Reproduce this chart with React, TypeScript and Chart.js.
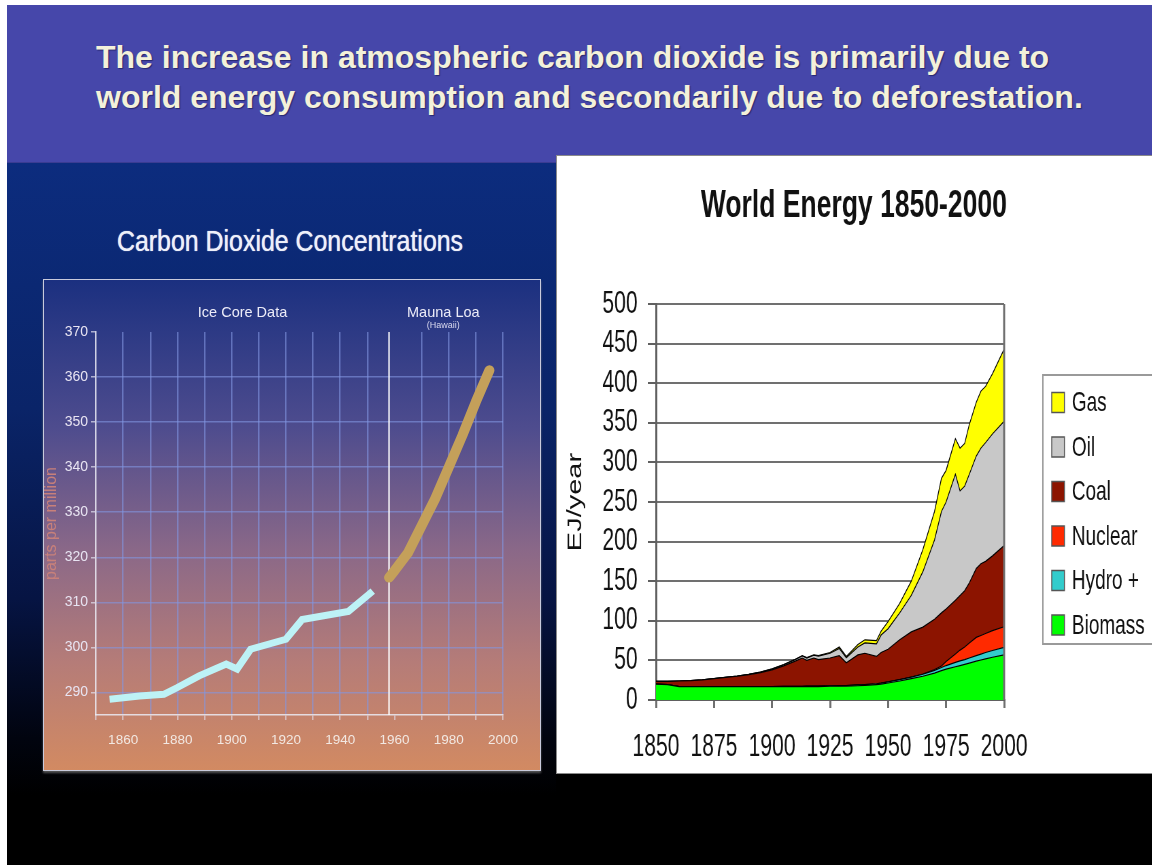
import React, { useEffect, useRef } from 'react';
import { Chart, registerables } from 'chart.js';

Chart.register(...registerables);

const FAMILY = '"Liberation Sans", Arial, Helvetica, sans-serif';
Chart.defaults.font.family = FAMILY;

// ---------- text ----------
const headerLines = [
  'The increase in atmospheric carbon dioxide is primarily due to',
  'world energy consumption and secondarily due to deforestation.',
];
const co2Title = 'Carbon Dioxide Concentrations';
const co2YTitle = 'parts per million';
const iceCoreLabel = 'Ice Core Data';
const maunaLoaLabel = 'Mauna Loa';
const maunaLoaSub = '(Hawaii)';
const energyTitle = 'World Energy 1850-2000';
const energyYTitle = 'EJ/year';

// ---------- CO2 data (ppm) ----------
const iceCoreYears = [1855, 1866, 1875, 1880, 1888, 1898, 1902, 1907, 1920, 1926, 1943, 1952];
const iceCorePpm = [288.5, 289.2, 289.6, 291.1, 293.7, 296.3, 295.2, 299.6, 301.8, 306.2, 308, 312.5];
const maunaLoaYears = [1958, 1960, 1965, 1970, 1975, 1980, 1985, 1990, 1995];
const maunaLoaPpm = [315.5, 317, 321, 327, 333, 340, 347, 354.5, 361.5];

// ---------- World energy data (EJ/year) ----------
const energyYears = [1850, 1855, 1860, 1865, 1870, 1875, 1880, 1885, 1890, 1895, 1900, 1905, 1910, 1913, 1915, 1918, 1920, 1925, 1929, 1932, 1937, 1940, 1945, 1947, 1950, 1955, 1960, 1965, 1970, 1973, 1975, 1979, 1981, 1983, 1985, 1988, 1990, 1992, 1995, 2000];
const biomass = [20, 19.5, 17, 17, 17, 17, 17, 17, 17, 17, 17, 17, 17, 17, 17, 17, 17, 17.5, 17.5, 17.5, 18, 18.5, 19.5, 20, 21.5, 24, 27, 30, 34, 37, 39, 42, 43.5, 45, 46.5, 49, 50.5, 52, 54, 57];
const hydro = [0, 0, 0, 0, 0, 0, 0, 0, 0, 0, 0, 0.1, 0.3, 0.3, 0.4, 0.4, 0.5, 0.5, 0.7, 0.8, 1, 1, 1, 1.2, 1.5, 1.7, 2, 2.5, 3.5, 4, 4.5, 5.5, 6, 6, 6.5, 7, 7.5, 8, 8.5, 9.5];
const nuclear = [0, 0, 0, 0, 0, 0, 0, 0, 0, 0, 0, 0, 0, 0, 0, 0, 0, 0, 0, 0, 0, 0, 0, 0, 0, 0, 0, 0.2, 1, 2, 5, 10.5, 13.5, 16, 19, 23, 23.5, 24, 25, 26];
const coal = [3.5, 4, 7, 7.5, 8.5, 10, 11.5, 13, 15, 17.5, 21, 26, 31.7, 35.7, 32.6, 35.6, 33.5, 35, 37.8, 28.7, 38, 39.5, 34.5, 38.8, 41, 50.3, 57, 59.3, 63.5, 67, 66.5, 68, 69, 71, 76, 87, 90.5, 91, 94.5, 102.5];
const oil = [0, 0, 0, 0, 0, 0.1, 0.2, 0.3, 0.5, 0.7, 1, 1.3, 2, 2.5, 3, 3.5, 4.5, 6, 9, 6.5, 10, 13, 16, 22, 26, 34, 46, 70, 100, 128, 135, 159, 132, 132, 137, 142, 146, 150, 154, 157];
const gas = [0, 0, 0, 0, 0, 0, 0, 0, 0, 0, 0.2, 0.3, 0.4, 0.5, 0.5, 0.5, 0.6, 1, 2, 1.5, 3, 4, 4, 5, 9, 12, 18, 28, 36, 42, 40, 45, 54, 54, 63, 68, 72, 71, 76, 91];

const energySeries = [
  { label: 'Biomass', values: biomass, color: '#00FF00' },
  { label: 'Hydro +', values: hydro, color: '#33CCCC' },
  { label: 'Nuclear', values: nuclear, color: '#FF2A00' },
  { label: 'Coal', values: coal, color: '#8C1400' },
  { label: 'Oil', values: oil, color: '#C8C8C8' },
  { label: 'Gas', values: gas, color: '#FFFF00' },
];

const SQUEEZE = 0.68; // the energy chart is horizontally compressed in the slide

// ---------- plugins ----------
const co2Annotations = {
  id: 'co2Annotations',
  beforeDatasetsDraw(chart: any) {
    const { ctx, chartArea, scales } = chart;
    const x = scales.x.getPixelForValue(1958);
    ctx.save();
    ctx.strokeStyle = 'rgba(255,255,255,0.85)';
    ctx.lineWidth = 1.6;
    ctx.beginPath();
    ctx.moveTo(x, chartArea.top);
    ctx.lineTo(x, chartArea.bottom);
    ctx.stroke();
    ctx.restore();
  },
  afterDraw(chart: any) {
    const { ctx, chartArea, scales } = chart;
    ctx.save();
    ctx.fillStyle = '#ECECF8';
    ctx.textAlign = 'center';
    ctx.textBaseline = 'middle';
    ctx.font = `14.5px ${FAMILY}`;
    ctx.fillText(iceCoreLabel, scales.x.getPixelForValue(1904), chartArea.top - 19);
    ctx.fillText(maunaLoaLabel, scales.x.getPixelForValue(1978), chartArea.top - 19);
    ctx.font = `9px ${FAMILY}`;
    ctx.fillStyle = '#D8D8EE';
    ctx.fillText(maunaLoaSub, scales.x.getPixelForValue(1978), chartArea.top - 6);
    ctx.restore();
  },
};

const energyDecor = {
  id: 'energyDecor',
  afterDatasetsDraw(chart: any) {
    const { ctx, chartArea } = chart;
    ctx.save();
    ctx.strokeStyle = '#707070';
    ctx.lineWidth = 3;
    ctx.beginPath();
    ctx.moveTo(chartArea.right, chartArea.top);
    ctx.lineTo(chartArea.right, chartArea.bottom);
    ctx.stroke();
    ctx.restore();
  },
  afterDraw(chart: any) {
    const { ctx, chartArea, width } = chart;
    ctx.save();
    // title
    ctx.fillStyle = '#111';
    ctx.textAlign = 'center';
    ctx.textBaseline = 'alphabetic';
    ctx.font = `bold 39px ${FAMILY}`;
    ctx.fillText(energyTitle, width / 2, 61);
    // legend
    const boxLeft = chartArea.right + 57;
    const boxTop = chartArea.top + 71;
    const boxBottom = chartArea.top + 340;
    ctx.strokeStyle = '#9A9A9A';
    ctx.lineWidth = 2;
    ctx.strokeRect(boxLeft, boxTop, width + 20 - boxLeft, boxBottom - boxTop);
    const items = chart.data.datasets.slice().reverse();
    ctx.font = `28px ${FAMILY}`;
    ctx.textAlign = 'left';
    ctx.textBaseline = 'middle';
    items.forEach((ds: any, i: number) => {
      const cy = chartArea.top + 98.5 + i * 44.5;
      ctx.fillStyle = ds.backgroundColor;
      ctx.fillRect(boxLeft + 13, cy - 10, 18.7, 20);
      ctx.strokeStyle = '#555';
      ctx.lineWidth = 1.5;
      ctx.strokeRect(boxLeft + 13, cy - 10, 18.7, 20);
      ctx.fillStyle = '#111';
      ctx.fillText(ds.label, boxLeft + 42.5, cy + 1);
    });
    ctx.restore();
  },
};

// ---------- charts ----------
function Co2Chart() {
  const ref = useRef<HTMLCanvasElement>(null);
  useEffect(() => {
    const mauna = maunaLoaYears.map((x, i) => ({ x, y: maunaLoaPpm[i] }));
    const ice = iceCoreYears.map((x, i) => ({ x, y: iceCorePpm[i] }));
    const chart = new Chart(ref.current as HTMLCanvasElement, {
      type: 'line',
      data: {
        datasets: [
          { label: 'Mauna Loa', data: mauna, borderColor: '#C4A05A', borderWidth: 10, pointRadius: 0, borderCapStyle: 'round', borderJoinStyle: 'round' },
          { label: 'Mauna Loa core', data: mauna, borderColor: 'rgba(228,204,128,0.85)', borderWidth: 3.5, pointRadius: 0, borderCapStyle: 'round' },
          { label: 'Ice Core', data: ice, borderColor: '#BDF2F6', borderWidth: 7, pointRadius: 0, borderCapStyle: 'butt', borderJoinStyle: 'miter' },
        ] as any,
      },
      options: {
        animation: false,
        responsive: true,
        maintainAspectRatio: false,
        layout: { padding: { top: 52, right: 37, left: 0, bottom: 0 } },
        plugins: { legend: { display: false }, tooltip: { enabled: false }, title: { display: false } },
        scales: {
          x: {
            type: 'linear',
            min: 1850,
            max: 2000,
            afterFit: (s: any) => { s.height = 55; },
            ticks: {
              stepSize: 10,
              autoSkip: false,
              maxRotation: 0,
              padding: 12,
              color: '#F2E8E2',
              font: { size: 13.5, family: FAMILY },
              callback: (v: any) => (v % 20 === 0 ? String(v) : ''),
            },
            grid: {
              color: (c: any) => (c.tick && (c.tick.value === 1960 || c.tick.value === 1850) ? 'rgba(0,0,0,0)' : 'rgba(130,150,225,0.6)'),
              lineWidth: 1.5,
              tickLength: 5,
              tickColor: 'rgba(225,225,240,0.6)',
            },
            border: { color: 'rgba(235,235,245,0.85)', width: 1.5 },
          },
          y: {
            type: 'linear',
            min: 285,
            max: 370,
            afterFit: (s: any) => { s.width = 52; },
            ticks: {
              stepSize: 10,
              autoSkip: false,
              includeBounds: false,
              padding: 3,
              color: '#E8E4F2',
              font: { size: 14, family: FAMILY },
              callback: (v: any) => String(v),
            },
            grid: {
              color: (c: any) => (c.tick && c.tick.value === 370 ? 'rgba(0,0,0,0)' : 'rgba(130,150,225,0.6)'),
              lineWidth: 1.5,
              tickLength: 5,
              tickColor: 'rgba(225,225,240,0.7)',
            },
            border: { color: 'rgba(235,235,245,0.85)', width: 1.5 },
            title: {
              display: true,
              text: co2YTitle,
              color: '#C8807A',
              font: { size: 16, lineHeight: 1, family: FAMILY },
              padding: { top: 0, bottom: 0 },
            },
          },
        },
      } as any,
      plugins: [co2Annotations],
    });
    return () => chart.destroy();
  }, []);
  return <canvas ref={ref} />;
}

function EnergyChart() {
  const ref = useRef<HTMLCanvasElement>(null);
  useEffect(() => {
    const datasets = energySeries.map((s, i) => ({
      label: s.label,
      data: energyYears.map((x, j) => ({ x, y: s.values[j] })),
      backgroundColor: s.color,
      borderColor: '#000',
      borderWidth: 1.2,
      pointRadius: 0,
      tension: 0,
      fill: i === 0 ? 'origin' : '-1',
    }));
    const chart = new Chart(ref.current as HTMLCanvasElement, {
      type: 'line',
      data: { datasets } as any,
      options: {
        animation: false,
        responsive: true,
        maintainAspectRatio: false,
        layout: { padding: { top: 148, right: 217, left: 0, bottom: 0 } },
        plugins: { legend: { display: false }, tooltip: { enabled: false }, title: { display: false } },
        scales: {
          x: {
            type: 'linear',
            min: 1850,
            max: 2000,
            afterFit: (s: any) => { s.height = 73; },
            ticks: {
              stepSize: 25,
              autoSkip: false,
              maxRotation: 0,
              padding: 21,
              color: '#111',
              font: { size: 31, family: FAMILY },
              callback: (v: any) => String(v),
            },
            grid: { drawOnChartArea: false, drawTicks: true, tickLength: 8, color: '#707070', lineWidth: 3 },
            border: { color: '#606060', width: 2 },
          },
          y: {
            stacked: true,
            min: 0,
            max: 500,
            afterFit: (s: any) => { s.width = 147; },
            ticks: {
              stepSize: 50,
              autoSkip: false,
              padding: 15,
              color: '#111',
              font: { size: 31, family: FAMILY },
              callback: (v: any) => String(v),
            },
            grid: { color: '#707070', lineWidth: 2, tickLength: 12, tickColor: '#606060' },
            border: { color: '#606060', width: 3 },
            title: {
              display: true,
              text: energyYTitle,
              color: '#111',
              font: { size: 29, lineHeight: 1, family: FAMILY },
              padding: { top: 14, bottom: 0 },
            },
          },
        },
      } as any,
      plugins: [energyDecor],
    });
    return () => chart.destroy();
  }, []);
  return <canvas ref={ref} />;
}

export default function App() {
  return (
    <div style={{ position: 'fixed', left: 0, top: 0, width: 1152, height: 865, background: '#fff', overflow: 'hidden', fontFamily: FAMILY }}>
      {/* slide background */}
      <div style={{ position: 'absolute', left: 7, top: 5, width: 1145, height: 860, background: '#000' }} />
      <div style={{ position: 'absolute', left: 7, top: 163, width: 549, height: 702, background: 'linear-gradient(180deg, #0C2C7E 0%, #0A2468 35%, #061443 62%, #01040F 82%, #000 90%)' }} />
      {/* header */}
      <div style={{ position: 'absolute', left: 7, top: 5, width: 1145, height: 158, background: '#4647AA', borderBottom: '1px solid #3A3C92', boxSizing: 'border-box' }} />
      <div style={{ position: 'absolute', left: 96, top: 37, whiteSpace: 'nowrap', color: '#F3F1DA', fontWeight: 'bold', fontSize: 32, lineHeight: '40px', textShadow: '1px 1px 1px rgba(0,0,40,0.45)' }}>
        {headerLines.map((l) => (<div key={l}>{l}</div>))}
      </div>
      {/* left title */}
      <div style={{ position: 'absolute', left: 117, top: 223, whiteSpace: 'nowrap', color: '#EEF0FA', fontSize: 30, lineHeight: '36px', transform: 'scaleX(0.83)', transformOrigin: '0 0', textShadow: '0 0 1px #EEF0FA' }}>
        {co2Title}
      </div>
      {/* left chart box */}
      <div style={{ position: 'absolute', left: 43, top: 279, width: 498, height: 492, boxSizing: 'border-box', border: '1px solid #C8CADC', boxShadow: '0 2px 2px rgba(120,120,120,0.7)', background: 'linear-gradient(180deg, #1B3080 0%, #4E4C8E 30%, #8A6888 55%, #B57C78 78%, #D28A62 100%)' }} />
      <div style={{ position: 'absolute', left: 44, top: 280, width: 496, height: 490 }}>
        <Co2Chart />
      </div>
      {/* right white panel */}
      <div style={{ position: 'absolute', left: 556, top: 155, width: 600, height: 619, background: '#fff', boxSizing: 'border-box', border: '1px solid #8A8A8A' }} />
      <div style={{ position: 'absolute', left: 556, top: 156, width: 876, height: 617, transform: `scaleX(${SQUEEZE})`, transformOrigin: '0 0' }}>
        <div style={{ position: 'relative', width: 876, height: 617 }}>
          <EnergyChart />
        </div>
      </div>
    </div>
  );
}
